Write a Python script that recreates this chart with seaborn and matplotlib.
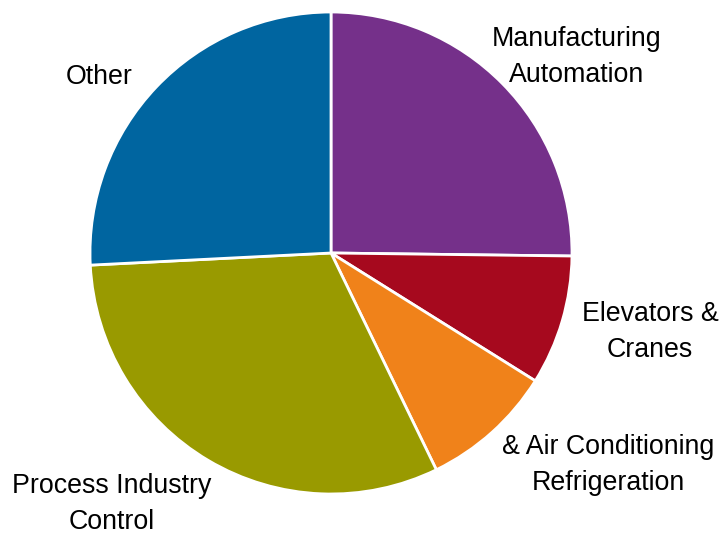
import matplotlib
matplotlib.use("Agg")
import matplotlib.pyplot as plt
import seaborn as sns

# Market share by application segment (percent)
segments = [
    "Manufacturing\nAutomation",
    "Elevators &\nCranes",
    "& Air Conditioning\nRefrigeration",
    "Process Industry\nControl",
    "Other",
]
shares = [25.2, 8.7, 8.9, 31.4, 25.8]
colors = ["#75308A", "#A6091E", "#F0821A", "#999A00", "#0065A0"]

# Label centres in figure pixels (x from left, y from top)
label_x = [577, 650, 608, 112, 99]
label_y = [57, 332, 465, 504, 77]

sns.set_style("white")
plt.rcParams["font.family"] = ["Liberation Sans", "DejaVu Sans"]

W, H = 721, 534
fig = plt.figure(figsize=(W / 100, H / 100), dpi=100)

cx, cy, r = 331, 253, 241
ax = fig.add_axes([(cx - r) / W, (H - cy - r) / H, 2 * r / W, 2 * r / H])
ax.pie(
    shares,
    colors=sns.color_palette(colors),
    startangle=90,
    counterclock=False,
    radius=1.0,
    wedgeprops=dict(edgecolor="white", linewidth=2),
)
ax.set_xlim(-1, 1)
ax.set_ylim(-1, 1)
ax.set_aspect("equal")
ax.axis("off")

for text, x, y in zip(segments, label_x, label_y):
    fig.text(x / W, 1 - y / H, text, ha="center", va="center",
             fontsize=19.3, color="black", linespacing=1.5)

fig.savefig("out.png", dpi=100, facecolor="white")
